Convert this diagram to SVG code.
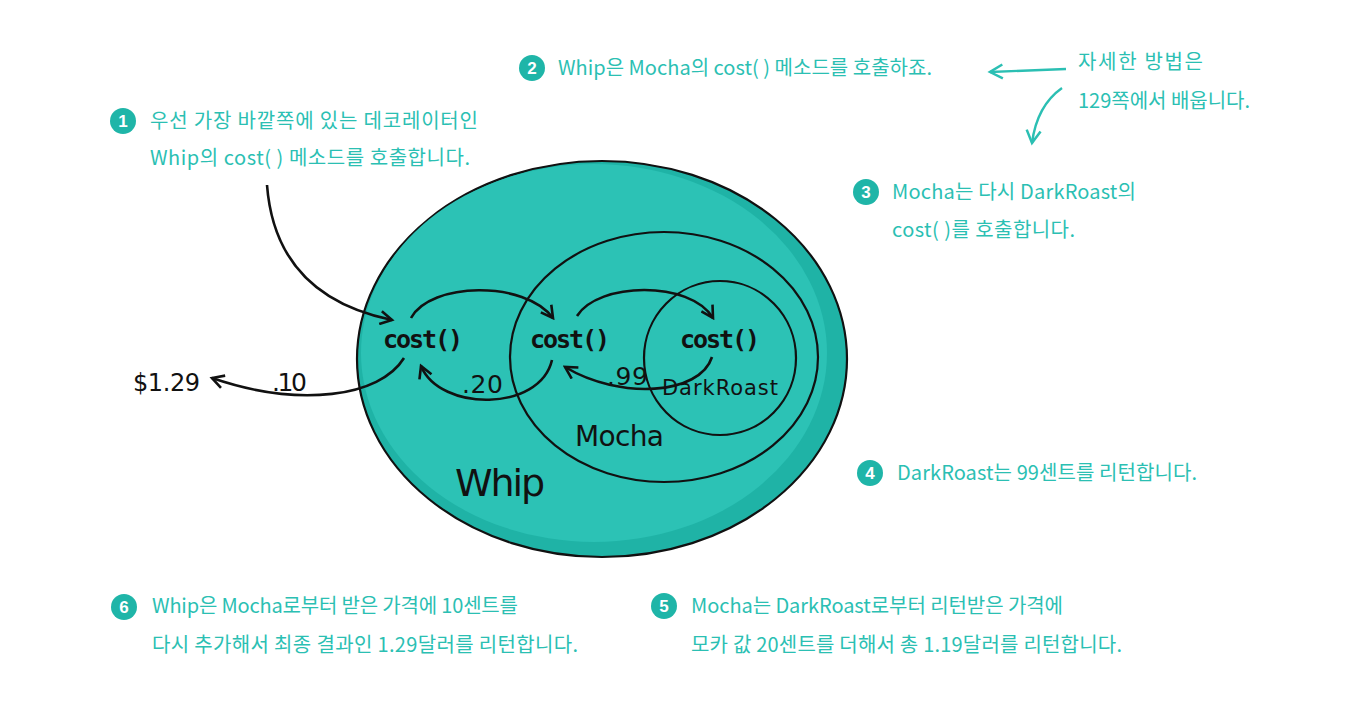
<svg xmlns="http://www.w3.org/2000/svg" width="1372" height="716" viewBox="0 0 1372 716">
<style>
.kr{font-family:"Noto Sans CJK KR","Noto Sans",sans-serif;font-size:20px;fill:#2bbfb3;}
.num{font-family:"Liberation Sans",Arial,sans-serif;font-size:17px;font-weight:bold;fill:#fff;text-anchor:middle;}
.badge{fill:#1fb5a8;}
.code{font-family:"DejaVu Sans Mono",monospace;font-size:25px;font-weight:bold;fill:#111;}
.hand{font-family:"DejaVu Sans","Liberation Sans",sans-serif;fill:#111;}
.ring{fill:none;stroke:#111;stroke-width:2.2;}
.arr{fill:none;stroke:#111;stroke-width:2.6;marker-end:url(#ah);}
.tarr{fill:none;stroke:#2bbfb3;stroke-width:2.4;marker-end:url(#th);}
</style>
<defs>
<marker id="ah" viewBox="0 0 12 12" refX="10" refY="6" markerWidth="6" markerHeight="6" orient="auto" markerUnits="strokeWidth">
<path d="M1,1 L10,6 L1,11" fill="none" stroke="#111" stroke-width="2"/>
</marker>
<marker id="th" viewBox="0 0 12 12" refX="10" refY="6" markerWidth="7" markerHeight="7" orient="auto" markerUnits="strokeWidth">
<path d="M1,1 L10,6 L1,11" fill="none" stroke="#2bbfb3" stroke-width="1.8"/>
</marker>
</defs>
<rect width="1372" height="716" fill="#fff"/>

<g id="whip">
<ellipse cx="602" cy="359" rx="245" ry="198" fill="#1fb3a6" stroke="#111" stroke-width="2.2"/>
<ellipse cx="594" cy="353" rx="233" ry="189" fill="#2cc2b5"/>
<text class="hand" x="455" y="496" font-size="38" textLength="90">Whip</text>
</g>
<g id="mocha">
<ellipse class="ring" cx="664" cy="357" rx="154" ry="125"/>
<text class="hand" x="575" y="446" font-size="28" textLength="89">Mocha</text>
</g>
<g id="darkroast">
<ellipse class="ring" cx="720" cy="358" rx="76" ry="77"/>
<text class="hand" x="662" y="395" font-size="21" textLength="116">DarkRoast</text>
</g>
<g id="cost-nodes">
<text class="code" x="383" y="348" textLength="80">cost()</text>
<text class="code" x="530" y="348" textLength="80">cost()</text>
<text class="code" x="680" y="348" textLength="80">cost()</text>
</g>

<g id="connectors">
<path class="arr" d="M267,185 C272,250 305,302 392,320"/>
<path class="arr" d="M411,318 C430,282 525,280 553,318"/>
<path class="arr" d="M577,316 C598,282 690,280 713,318"/>
<path class="arr" d="M712,357 C700,395 620,400 565,367"/>
<path class="arr" d="M552,360 C540,412 440,412 421,366"/>
<path class="arr" d="M404,358 C380,397 300,408 212,378"/>
<path class="tarr" d="M1066,69 L990,72"/>
<path class="tarr" d="M1062,88 C1045,100 1035,120 1032,143"/>
</g>

<g id="values">
<text class="hand" x="462" y="393" font-size="25" textLength="41">.20</text>
<text class="hand" x="607" y="385" font-size="25" textLength="41">.99</text>
<text class="hand" x="272" y="391" font-size="25" textLength="35">.10</text>
<text class="hand" x="133" y="391" font-size="24" textLength="67">$1.29</text>
</g>

<g id="note1">
<circle class="badge" cx="123" cy="121" r="13"/><text class="num" x="123" y="127">1</text>
<text class="kr" x="150" y="128" textLength="328">우선 가장 바깥쪽에 있는 데코레이터인</text>
<text class="kr" x="150" y="165" textLength="320">Whip의 cost( ) 메소드를 호출합니다.</text>
</g>
<g id="note2">
<circle class="badge" cx="532" cy="68" r="13"/><text class="num" x="532" y="74">2</text>
<text class="kr" x="558" y="75" textLength="374">Whip은 Mocha의 cost( ) 메소드를 호출하죠.</text>
</g>
<g id="note-side">
<text class="kr" x="1078" y="69" textLength="125">자세한 방법은</text>
<text class="kr" x="1078" y="108" textLength="172">129쪽에서 배웁니다.</text>
</g>
<g id="note3">
<circle class="badge" cx="866" cy="192" r="13"/><text class="num" x="866" y="198">3</text>
<text class="kr" x="892" y="199" textLength="244">Mocha는 다시 DarkRoast의</text>
<text class="kr" x="892" y="237" textLength="183">cost( )를 호출합니다.</text>
</g>
<g id="note4">
<circle class="badge" cx="870" cy="473" r="13"/><text class="num" x="870" y="479">4</text>
<text class="kr" x="897" y="480" textLength="300">DarkRoast는 99센트를 리턴합니다.</text>
</g>
<g id="note5">
<circle class="badge" cx="664" cy="606" r="13"/><text class="num" x="664" y="612">5</text>
<text class="kr" x="691" y="613" textLength="372">Mocha는 DarkRoast로부터 리턴받은 가격에</text>
<text class="kr" x="691" y="652" textLength="431">모카 값 20센트를 더해서 총 1.19달러를 리턴합니다.</text>
</g>
<g id="note6">
<circle class="badge" cx="124" cy="607" r="13"/><text class="num" x="124" y="613">6</text>
<text class="kr" x="152" y="613" textLength="366">Whip은 Mocha로부터 받은 가격에 10센트를</text>
<text class="kr" x="152" y="652" textLength="426">다시 추가해서 최종 결과인 1.29달러를 리턴합니다.</text>
</g>
</svg>
